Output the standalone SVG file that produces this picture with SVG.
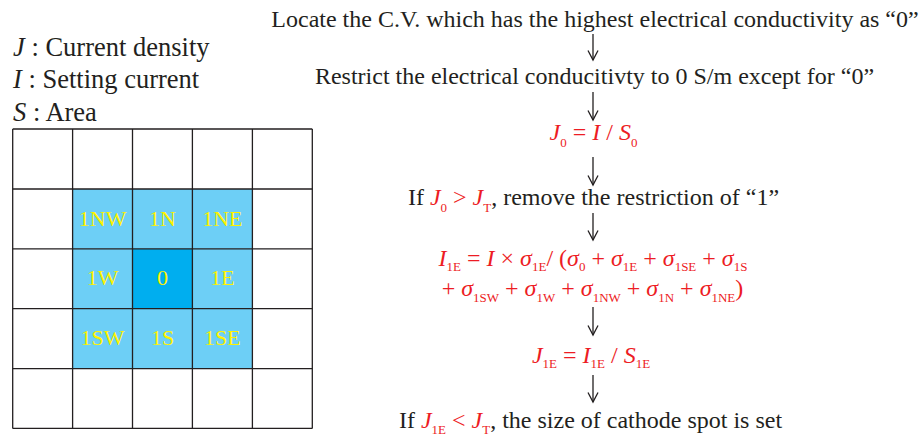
<svg xmlns="http://www.w3.org/2000/svg" width="922" height="436" viewBox="0 0 922 436">
<defs>
<style>
text{font-family:"Liberation Serif","Times New Roman",serif;fill:#231f20}
.leg{font-size:26.5px}
.t{font-size:24px;text-anchor:middle}
.r{fill:#ed1c24}
.it{font-style:italic}
.sb{font-size:13px;font-style:normal}
.cell{font-size:22px;text-anchor:middle;fill:#fff200}
.c1{fill:#6dcff6}
.c0{fill:#00aeef}
.grid{stroke:#231f20;stroke-width:1.3;fill:none}
.arr{stroke:#231f20;stroke-width:1.3;fill:none;marker-end:url(#ah)}
</style>
<marker id="ah" viewBox="0 0 12 12" refX="10.5" refY="6" markerWidth="12" markerHeight="12" markerUnits="userSpaceOnUse" orient="auto">
<path d="M1,1 L10.5,6 L1,11" fill="none" stroke="#231f20" stroke-width="1.3"/>
</marker>
</defs>
<rect width="922" height="436" fill="#fff"/>

<g id="legend">
<text class="leg" x="13" y="56"><tspan class="it">J</tspan> : Current density</text>
<text class="leg" x="13" y="88"><tspan class="it">I</tspan> : Setting current</text>
<text class="leg" x="13" y="121"><tspan class="it">S</tspan> : Area</text>
</g>

<g id="cell-1NW"><rect class="c1" x="72.6" y="189" width="59.9" height="59.8"/><text class="cell" x="102.6" y="226">1NW</text></g>
<g id="cell-1N"><rect class="c1" x="132.5" y="189" width="59.9" height="59.8"/><text class="cell" x="162.5" y="226">1N</text></g>
<g id="cell-1NE"><rect class="c1" x="192.4" y="189" width="60" height="59.8"/><text class="cell" x="222.4" y="226">1NE</text></g>
<g id="cell-1W"><rect class="c1" x="72.6" y="248.8" width="59.9" height="59.9"/><text class="cell" x="102.6" y="285">1W</text></g>
<g id="cell-0"><rect class="c0" x="132.5" y="248.8" width="59.9" height="59.9"/><text class="cell" x="162.5" y="285">0</text></g>
<g id="cell-1E"><rect class="c1" x="192.4" y="248.8" width="60" height="59.9"/><text class="cell" x="222.4" y="285">1E</text></g>
<g id="cell-1SW"><rect class="c1" x="72.6" y="308.7" width="59.9" height="59.9"/><text class="cell" x="102.6" y="345">1SW</text></g>
<g id="cell-1S"><rect class="c1" x="132.5" y="308.7" width="59.9" height="59.9"/><text class="cell" x="162.5" y="345">1S</text></g>
<g id="cell-1SE"><rect class="c1" x="192.4" y="308.7" width="60" height="59.9"/><text class="cell" x="222.4" y="345">1SE</text></g>

<g id="grid" class="grid">
<path d="M12.7,129 V428.4 M72.6,129 V428.4 M132.5,129 V428.4 M192.4,129 V428.4 M252.4,129 V428.4 M312.3,129 V428.4"/>
<path d="M12.7,129 H312.3 M12.7,189 H312.3 M12.7,248.8 H312.3 M12.7,308.7 H312.3 M12.7,368.6 H312.3 M12.7,428.4 H312.3"/>
</g>

<g id="step1"><text class="t" x="595" y="27">Locate the C.V. which has the highest electrical conductivity as “0”</text></g>
<g id="step2"><text class="t" x="594.5" y="84">Restrict the electrical conducitivty to 0 S/m except for “0”</text></g>
<g id="step3"><text class="t r" x="593.5" y="140"><tspan class="it">J</tspan><tspan class="sb" dy="7">0</tspan><tspan dy="-7"> = </tspan><tspan class="it">I</tspan> / <tspan class="it">S</tspan><tspan class="sb" dy="7">0</tspan></text></g>
<g id="step4"><text class="t" x="593.5" y="205">If <tspan class="r it">J</tspan><tspan class="r sb" dy="7">0</tspan><tspan class="r" dy="-7"> &gt; </tspan><tspan class="r it">J</tspan><tspan class="r sb" dy="7">T</tspan><tspan dy="-7">, remove the restriction of “1”</tspan></text></g>
<g id="step5"><text class="t r" x="593" y="266"><tspan class="it">I</tspan><tspan class="sb" dy="5">1E</tspan><tspan dy="-5"> = </tspan><tspan class="it">I</tspan> × <tspan class="it">σ</tspan><tspan class="sb" dy="5">1E</tspan><tspan dy="-5">/ (</tspan><tspan class="it">σ</tspan><tspan class="sb" dy="5">0</tspan><tspan dy="-5"> + </tspan><tspan class="it">σ</tspan><tspan class="sb" dy="5">1E</tspan><tspan dy="-5"> + </tspan><tspan class="it">σ</tspan><tspan class="sb" dy="5">1SE</tspan><tspan dy="-5"> + </tspan><tspan class="it">σ</tspan><tspan class="sb" dy="5">1S</tspan></text>
<text class="t r" x="592.5" y="296">+ <tspan class="it">σ</tspan><tspan class="sb" dy="6">1SW</tspan><tspan dy="-6"> + </tspan><tspan class="it">σ</tspan><tspan class="sb" dy="6">1W</tspan><tspan dy="-6"> + </tspan><tspan class="it">σ</tspan><tspan class="sb" dy="6">1NW</tspan><tspan dy="-6"> + </tspan><tspan class="it">σ</tspan><tspan class="sb" dy="6">1N</tspan><tspan dy="-6"> + </tspan><tspan class="it">σ</tspan><tspan class="sb" dy="6">1NE</tspan><tspan dy="-6">)</tspan></text></g>
<g id="step6"><text class="t r" x="591" y="363"><tspan class="it">J</tspan><tspan class="sb" dy="5">1E</tspan><tspan dy="-5"> = </tspan><tspan class="it">I</tspan><tspan class="sb" dy="5">1E</tspan><tspan dy="-5"> / </tspan><tspan class="it">S</tspan><tspan class="sb" dy="5">1E</tspan></text></g>
<g id="step7"><text class="t" x="590.5" y="428">If <tspan class="r it">J</tspan><tspan class="r sb" dy="6">1E</tspan><tspan class="r" dy="-6"> &lt; </tspan><tspan class="r it">J</tspan><tspan class="r sb" dy="6">T</tspan><tspan dy="-6">, the size of cathode spot is set</tspan></text></g>

<g id="connectors" class="arr">
<path d="M593,34 V60"/>
<path d="M593,92 V120"/>
<path d="M593,157 V185"/>
<path d="M593,213 V240"/>
<path d="M593,307 V335"/>
<path d="M593,375 V402"/>
</g>
</svg>
